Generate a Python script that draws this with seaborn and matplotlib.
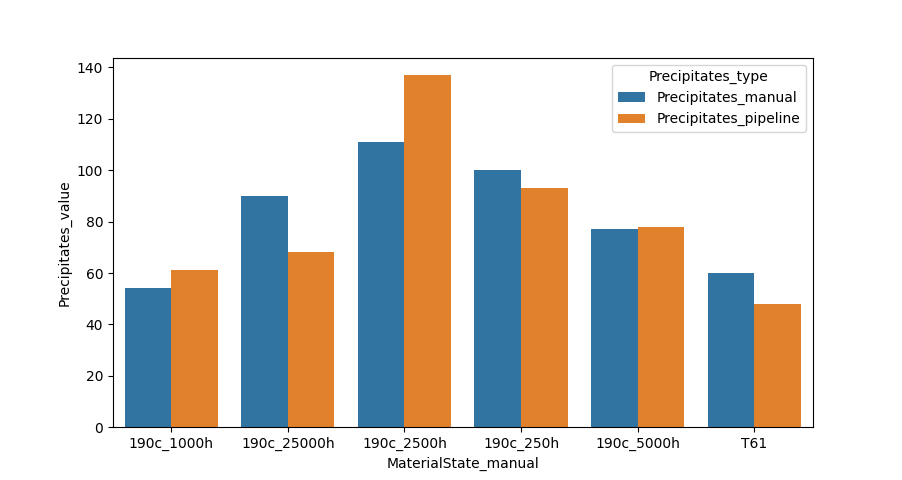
import matplotlib
matplotlib.use("Agg")
import matplotlib.pyplot as plt
import seaborn as sns
import pandas as pd

categories = ["190c_1000h", "190c_25000h", "190c_2500h", "190c_250h", "190c_5000h", "T61"]
manual_values = [54, 90, 111, 100, 77, 60]
pipeline_values = [61, 68, 137, 93, 78, 48]
series_names = ["Precipitates_manual", "Precipitates_pipeline"]

df = pd.DataFrame({
    "MaterialState_manual": categories * 2,
    "Precipitates_type": [series_names[0]] * len(categories) + [series_names[1]] * len(categories),
    "Precipitates_value": manual_values + pipeline_values,
})

fig, ax = plt.subplots(figsize=(9.03, 4.8), dpi=100)
sns.barplot(data=df, x="MaterialState_manual", y="Precipitates_value",
            hue="Precipitates_type", ax=ax)
fig.savefig("out.png", dpi=100)
